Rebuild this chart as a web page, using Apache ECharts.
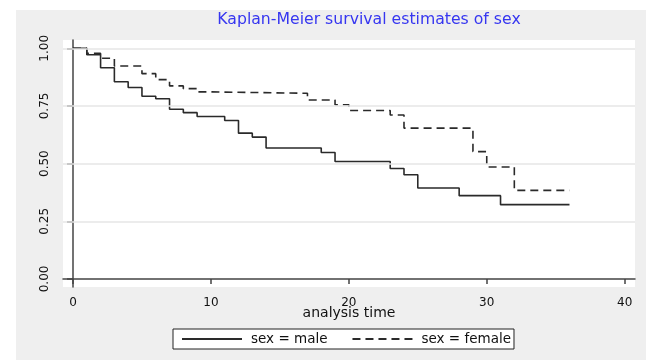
<!DOCTYPE html>
<html>
<head>
<meta charset="utf-8">
<script src="https://cdn.jsdelivr.net/npm/echarts@6/dist/echarts.min.js"></script>
<style>
  html, body { margin: 0; padding: 0; background: #ffffff; }
  #bg { position: absolute; left: 16px; top: 10px; width: 630px; height: 350px; background: #efefef; }
  #chart { position: absolute; left: 0; top: 0; width: 646px; height: 360px; }
</style>
</head>
<body>
<div id="bg"></div>
<div id="chart"></div>
<script>
// Kaplan-Meier step data (time, survival)
const maleTime     = [0, 1, 2, 3, 4, 5, 6, 7, 8, 9, 11, 12, 13, 14, 18, 19, 23, 24, 25, 28, 31, 36];
const maleSurv     = [1.000, 0.972, 0.916, 0.855, 0.830, 0.792, 0.781, 0.736, 0.721, 0.704, 0.687, 0.632, 0.615, 0.568, 0.548, 0.509, 0.479, 0.452, 0.394, 0.361, 0.322, 0.322];
const femaleTime   = [0, 1, 2, 3, 5, 6, 7, 8, 9, 10, 17, 19, 20, 23, 24, 29, 30, 32, 36];
const femaleSurv   = [1.000, 0.978, 0.957, 0.923, 0.890, 0.864, 0.837, 0.825, 0.811, 0.805, 0.776, 0.755, 0.730, 0.711, 0.654, 0.552, 0.485, 0.384, 0.384];
const xTicks = [0, 10, 20, 30, 40];
const yTicks = [0, 0.25, 0.5, 0.75, 1];
const gridLines = [0.25, 0.5, 0.75, 1];
const seriesNames = ['sex = male', 'sex = female'];
const titleText = 'Kaplan-Meier survival estimates of sex';
const xTitle = 'analysis time';

const FONT = 'DejaVu Sans';
const chart = echarts.init(document.getElementById('chart'), null, { renderer: 'canvas' });
const pairs = (t, s) => t.map((v, i) => [v, s[i]]);

chart.setOption({
  animation: false,
  backgroundColor: 'transparent',
  title: {
    text: titleText,
    left: 364, top: 7, textAlign: 'center',
    textStyle: { color: '#3636f0', fontSize: 15.7, fontWeight: 'normal', fontFamily: FONT }
  },
  grid: {
    left: 63, right: 11, top: 40, bottom: 73,
    show: true, backgroundColor: '#ffffff', borderWidth: 0
  },
  legend: {
    left: 173, top: 329,
    data: seriesNames,
    orient: 'horizontal',
    itemWidth: 60, itemHeight: 12, itemGap: 24,
    padding: [3, 3, 3, 8],
    itemStyle: { opacity: 0 },
    backgroundColor: '#ffffff', borderColor: '#222222', borderWidth: 1, borderRadius: 0,
    textStyle: { fontSize: 13.5, color: '#111111', fontFamily: FONT, padding: [0, 0, 0, 4] }
  },
  xAxis: {
    type: 'value', min: -0.725, max: 40.75,
    name: xTitle, nameLocation: 'middle', nameGap: 19, nameMoveOverlap: false,
    nameTextStyle: { fontSize: 14, color: '#111111', fontFamily: FONT },
    axisLine: { show: true, lineStyle: { color: '#444444', width: 1.5 } },
    axisTick: { show: true, length: 5, customValues: xTicks, lineStyle: { color: '#444444', width: 1.5 } },
    axisLabel: { customValues: xTicks, margin: 10, fontSize: 12, color: '#111111', fontFamily: FONT },
    splitLine: { show: false }
  },
  yAxis: {
    type: 'value', min: -0.035, max: 1.036,
    axisLine: { show: true, lineStyle: { color: '#444444', width: 1.5 } },
    axisTick: { show: true, length: 6, customValues: yTicks, lineStyle: { color: '#444444', width: 1.5 } },
    axisLabel: { customValues: yTicks, rotate: 90, margin: 12, fontSize: 12, color: '#111111', fontFamily: FONT,
                 formatter: v => v.toFixed(2) },
    splitLine: { show: false }
  },
  series: [
    {
      name: seriesNames[0], type: 'line', step: 'end', symbol: 'none',
      data: pairs(maleTime, maleSurv),
      lineStyle: { color: '#2a2a2a', width: 1.6, type: 'solid' },
      itemStyle: { color: '#2a2a2a' },
      z: 3,
      markLine: {
        silent: true, symbol: 'none', label: { show: false },
        lineStyle: { color: '#e6e6e6', width: 1.5, type: 'solid' },
        data: gridLines.map(v => ({ yAxis: v }))
      }
    },
    {
      name: seriesNames[1], type: 'line', step: 'end', symbol: 'none',
      data: pairs(femaleTime, femaleSurv),
      lineStyle: { color: '#2a2a2a', width: 1.6, type: [8, 5] },
      itemStyle: { color: '#2a2a2a' },
      z: 3
    }
  ]
});
</script>
</body>
</html>
